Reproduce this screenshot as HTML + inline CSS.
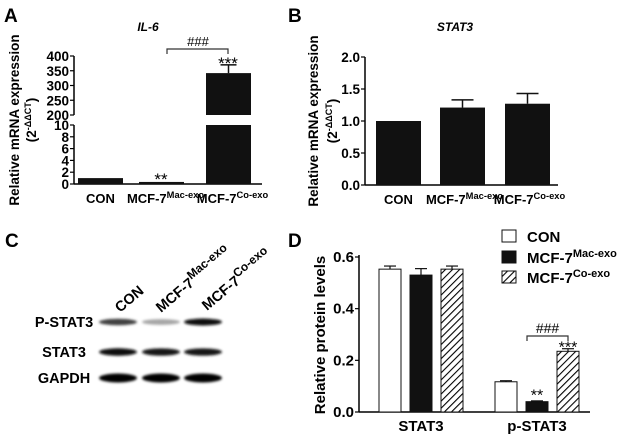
<!DOCTYPE html>
<html><head><meta charset="utf-8">
<style>
html,body{margin:0;padding:0;background:#fff;}
svg{display:block;font-family:"Liberation Sans",Arial,sans-serif;font-weight:bold;}
</style></head>
<body>
<svg id="fig" width="621" height="437" viewBox="0 0 621 437" xmlns="http://www.w3.org/2000/svg">
<defs>
<pattern id="hatch" patternUnits="userSpaceOnUse" width="5" height="5" patternTransform="rotate(45)">
<rect width="5" height="5" fill="#fff"/><line x1="0" y1="0" x2="0" y2="5" stroke="#000" stroke-width="2.2"/>
</pattern>
<filter id="blur" x="-20%" y="-100%" width="140%" height="300%"><feGaussianBlur stdDeviation="1.2"/></filter>
</defs>
<g id="A"></g>
<g id="B"></g>
<g id="C"></g>
<g id="D"></g>
</svg>
<script>
// Panel A data
const aCategories = ["CON", "MCF-7|Mac-exo", "MCF-7|Co-exo"];
const aValues = [1.0, 0.35, 342];
const aErrors = [0.05, 0.05, 28];
const aLowTicks = [0, 2, 4, 6, 8, 10];
const aHighTicks = [200, 250, 300, 350, 400];
// Panel B data
const bCategories = ["CON", "MCF-7|Mac-exo", "MCF-7|Co-exo"];
const bValues = [1.0, 1.21, 1.27];
const bErrors = [0, 0.12, 0.16];
const bTicks = [0.0, 0.5, 1.0, 1.5, 2.0];
// Panel D data
const dGroups = ["STAT3", "p-STAT3"];
const dConValues = [0.553, 0.117];
const dConErrors = [0.012, 0.004];
const dMacValues = [0.53, 0.04];
const dMacErrors = [0.025, 0.003];
const dCoValues = [0.553, 0.235];
const dCoErrors = [0.012, 0.01];
const dTicks = [0.0, 0.2, 0.4, 0.6];
// Panel C band intensities (relative)
const cLanes = ["CON", "MCF-7|Mac-exo", "MCF-7|Co-exo"];
const cPSTAT3 = [0.75, 0.35, 0.95];
const cSTAT3 = [0.95, 0.92, 0.9];
const cGAPDH = [1, 1, 1];

const NS = "http://www.w3.org/2000/svg";
function mk(parent, tag, attrs, text){
  const e = document.createElementNS(NS, tag);
  for (const k in attrs) e.setAttribute(k, attrs[k]);
  if (text !== undefined) e.textContent = text;
  parent.appendChild(e);
  return e;
}
function catLabel(g, x, y, lab, size){
  const parts = lab.split("|");
  const t = mk(g, "text", {x:x, y:y, "text-anchor":"middle", "font-size":size});
  
  
  mk(t, "tspan", {}, parts[0]);
  if (parts[1]) { mk(t, "tspan", {dy:-5, "font-size":size*0.72}, parts[1]); }
  return t;
}
function letter(ch, x, y){
  const t = mk(document.getElementById("fig"), "text", {x:x, y:y, "font-size":19}, ch);
  
  
}
letter("A", 4, 22); letter("B", 288, 22); letter("C", 5, 247); letter("D", 288, 247);

function ylabel(g, x, x2, y, size){
  const t = mk(g, "text", {transform:`translate(${x},${y}) rotate(-90)`, "text-anchor":"middle", "font-size":size}, "Relative mRNA expression");
  
  
  const t2 = mk(g, "text", {transform:`translate(${x2},${y}) rotate(-90)`, "text-anchor":"middle", "font-size":size});
  
  
  mk(t2, "tspan", {}, "(2");
  mk(t2, "tspan", {dy:-5, "font-size":9}, "-ΔΔCT");
  mk(t2, "tspan", {dy:5}, ")");
}

// ---------- Panel A ----------
(function(){
  const g = document.getElementById("A");
  const ax = 74, base = 184, lowTop = 125, hiBot = 115, hiTop = 56;
  const yLow = v => base - (v/10)*(base-lowTop);
  const yHigh = v => hiBot - ((v-200)/200)*(hiBot-hiTop);
  const ys = v => v <= 10 ? yLow(v) : yHigh(v);
  const barX = [78, 139, 206], bw = 45;
  let t = mk(g,"text",{x:148,y:31,"text-anchor":"middle","font-size":12,"font-style":"italic"},"IL-6");
   
  ylabel(g, 19, 36, 120, 13.5);
  mk(g,"line",{x1:ax,y1:base,x2:ax,y2:lowTop,stroke:"#000","stroke-width":1.5});
  mk(g,"line",{x1:ax,y1:hiBot,x2:ax,y2:hiTop,stroke:"#000","stroke-width":1.5});
  mk(g,"line",{x1:ax,y1:base,x2:262,y2:base,stroke:"#000","stroke-width":1.5});
  aLowTicks.forEach(v=>{ const y=yLow(v);
    mk(g,"line",{x1:ax-4,y1:y,x2:ax,y2:y,stroke:"#000","stroke-width":1.2});
    const l=mk(g,"text",{x:ax-5,y:y+5,"text-anchor":"end","font-size":13.5},String(v));
     });
  aHighTicks.forEach(v=>{ const y=yHigh(v);
    mk(g,"line",{x1:ax-4,y1:y,x2:ax,y2:y,stroke:"#000","stroke-width":1.2});
    const l=mk(g,"text",{x:ax-5,y:y+5,"text-anchor":"end","font-size":13.5},String(v));
     });
  aValues.forEach((v,i)=>{
    const x = barX[i];
    if (v <= 10){
      const b = mk(g,"rect",{x:x,y:yLow(v),width:bw,height:base-yLow(v),fill:"#111"});
       
    } else {
      const b1 = mk(g,"rect",{x:x,y:lowTop,width:bw,height:base-lowTop,fill:"#111"});
       
      const b2 = mk(g,"rect",{x:x,y:yHigh(v),width:bw,height:hiBot-yHigh(v),fill:"#111"});
       
      const ye = ys(v+aErrors[i]);
      mk(g,"line",{x1:x+bw/2,y1:yHigh(v),x2:x+bw/2,y2:ye,stroke:"#111","stroke-width":1.5});
      mk(g,"line",{x1:x+bw/2-8,y1:ye,x2:x+bw/2+8,y2:ye,stroke:"#111","stroke-width":1.5});
    }
    catLabel(g, x+bw/2+(i?4:0), 203, aCategories[i], 13);
  });
  const s1=mk(g,"text",{x:161,y:yLow(aValues[1])+3,"text-anchor":"middle","font-size":17,"font-weight":"normal"},"**");
   
  const s2=mk(g,"text",{x:228,y:ys(aValues[2]+aErrors[2])+4,"text-anchor":"middle","font-size":17,"font-weight":"normal"},"***");
   
  mk(g,"path",{d:"M167,54 L167,49 L228,49 L228,54",fill:"none",stroke:"#333","stroke-width":1.2});
  const h=mk(g,"text",{x:198,y:46,"text-anchor":"middle","font-size":13,"font-weight":"normal"},"###");
   
})();

// ---------- Panel B ----------
(function(){
  const g = document.getElementById("B");
  const ax = 365, base = 185, top = 57;
  const y = v => base - (v/2)*(base-top);
  const barX = [376, 440, 505], bw = 45;
  let t = mk(g,"text",{x:455,y:31,"text-anchor":"middle","font-size":12,"font-style":"italic"},"STAT3");
   
  ylabel(g, 318, 337, 121, 13.5);
  mk(g,"line",{x1:ax,y1:base,x2:ax,y2:top,stroke:"#000","stroke-width":1.5});
  mk(g,"line",{x1:ax,y1:base,x2:558,y2:base,stroke:"#000","stroke-width":1.5});
  bTicks.forEach(v=>{ const yy=y(v);
    mk(g,"line",{x1:ax-4,y1:yy,x2:ax,y2:yy,stroke:"#000","stroke-width":1.2});
    const l=mk(g,"text",{x:ax-5,y:yy+5,"text-anchor":"end","font-size":13.5},v.toFixed(1));
     });
  bValues.forEach((v,i)=>{
    const x=barX[i];
    const b=mk(g,"rect",{x:x,y:y(v),width:bw,height:base-y(v),fill:"#111"});
     
    if (bErrors[i]>0){ const ye=y(v+bErrors[i]);
      mk(g,"line",{x1:x+bw/2,y1:y(v),x2:x+bw/2,y2:ye,stroke:"#111","stroke-width":1.5});
      mk(g,"line",{x1:x+bw/2-11,y1:ye,x2:x+bw/2+11,y2:ye,stroke:"#111","stroke-width":1.5});}
    catLabel(g, x+bw/2+(i?2:0), 204, bCategories[i], 13);
  });
})();

// ---------- Panel C ----------
(function(){
  const g = document.getElementById("C");
  const laneX = [118, 161, 203], bandW = 38;
  const rows = [["P-STAT3", cPSTAT3, 322, 5], ["STAT3", cSTAT3, 352, 5.5], ["GAPDH", cGAPDH, 378, 7]];
  rows.forEach(r=>{
    const l=mk(g,"text",{x:64,y:r[2]+5,"text-anchor":"middle","font-size":14.5},r[0]);
     
    r[1].forEach((v,i)=>{
      const c = Math.round(255*(1-v));
      const e=mk(g,"ellipse",{cx:laneX[i],cy:r[2],rx:bandW/2,ry:r[3]/2+v,fill:`rgb(${c},${c},${c})`,filter:"url(#blur)"});
       
    });
  });
  const lx=[[120,313],[161,313],[207,311]];
  cLanes.forEach((lab,i)=>{
    const parts=lab.split("|");
    const t=mk(g,"text",{transform:`translate(${lx[i][0]},${lx[i][1]}) rotate(-40)`,"font-size":14.5,"text-anchor":"start"});
     
    mk(t,"tspan",{},parts[0]);
    if(parts[1]) mk(t,"tspan",{dy:-6,"font-size":12},parts[1]);
  });
})();

// ---------- Panel D ----------
(function(){
  const g = document.getElementById("D");
  const ax = 359, base = 412, top = 257;
  const y = v => base - (v/0.6)*(base-top);
  const groupX = [379, 495], step = 31, bw = 22;
  const series = [[dConValues,dConErrors,"#fff","con"],[dMacValues,dMacErrors,"#111","mac"],[dCoValues,dCoErrors,"url(#hatch)","co"]];
  const t=mk(g,"text",{transform:"translate(325,335) rotate(-90)","text-anchor":"middle","font-size":15},"Relative protein levels");
   
  mk(g,"line",{x1:ax,y1:base,x2:ax,y2:top-2,stroke:"#000","stroke-width":1.5});
  mk(g,"line",{x1:ax,y1:base,x2:590,y2:base,stroke:"#000","stroke-width":1.5});
  dTicks.forEach(v=>{const yy=y(v);
    mk(g,"line",{x1:ax-4,y1:yy,x2:ax,y2:yy,stroke:"#000","stroke-width":1.2});
    const l=mk(g,"text",{x:ax-5,y:yy+5,"text-anchor":"end","font-size":15},v.toFixed(1));
     });
  dGroups.forEach((gn,gi)=>{
    series.forEach((s,si)=>{
      const v=s[0][gi], e=s[1][gi], x=groupX[gi]+si*step;
      const ye=y(v+e);
      mk(g,"line",{x1:x+bw/2,y1:y(v),x2:x+bw/2,y2:ye,stroke:"#111","stroke-width":1.2});
      mk(g,"line",{x1:x+bw/2-6,y1:ye,x2:x+bw/2+6,y2:ye,stroke:"#111","stroke-width":1.2});
      const b=mk(g,"rect",{x:x,y:y(v),width:bw,height:base-y(v),fill:s[2],stroke:"#111","stroke-width":1});
       
    });
    const l=mk(g,"text",{x:groupX[gi]+42,y:431,"text-anchor":"middle","font-size":15},gn);
     
  });
  const x1=groupX[1]+step+bw/2, x2=groupX[1]+2*step+bw/2;
  const s1=mk(g,"text",{x:x1,y:y(dMacValues[1])-1,"text-anchor":"middle","font-size":16,"font-weight":"normal"},"**");
   
  const s2=mk(g,"text",{x:x2,y:y(dCoValues[1]+dCoErrors[1])+4,"text-anchor":"middle","font-size":16,"font-weight":"normal"},"***");
   
  mk(g,"path",{d:`M${x1-10},341 L${x1-10},336 L${x2},336 L${x2},341`,fill:"none",stroke:"#333","stroke-width":1.2});
  const h=mk(g,"text",{x:(x1+x2)/2-5,y:333,"text-anchor":"middle","font-size":14,"font-weight":"normal"},"###");
   
  const leg=[["CON","","#fff",236],["MCF-7","Mac-exo","#111",257],["MCF-7","Co-exo","url(#hatch)",277]];
  leg.forEach((l,i)=>{
    const r=mk(g,"rect",{x:502,y:l[3]-6,width:14,height:12,fill:l[2],stroke:"#111","stroke-width":1});
     
    const t=mk(g,"text",{x:527,y:l[3]+6,"font-size":15});
     
    mk(t,"tspan",{},l[0]);
    if(l[1]) mk(t,"tspan",{dy:-6,"font-size":11},l[1]);
  });
})();
</script>
</body></html>
